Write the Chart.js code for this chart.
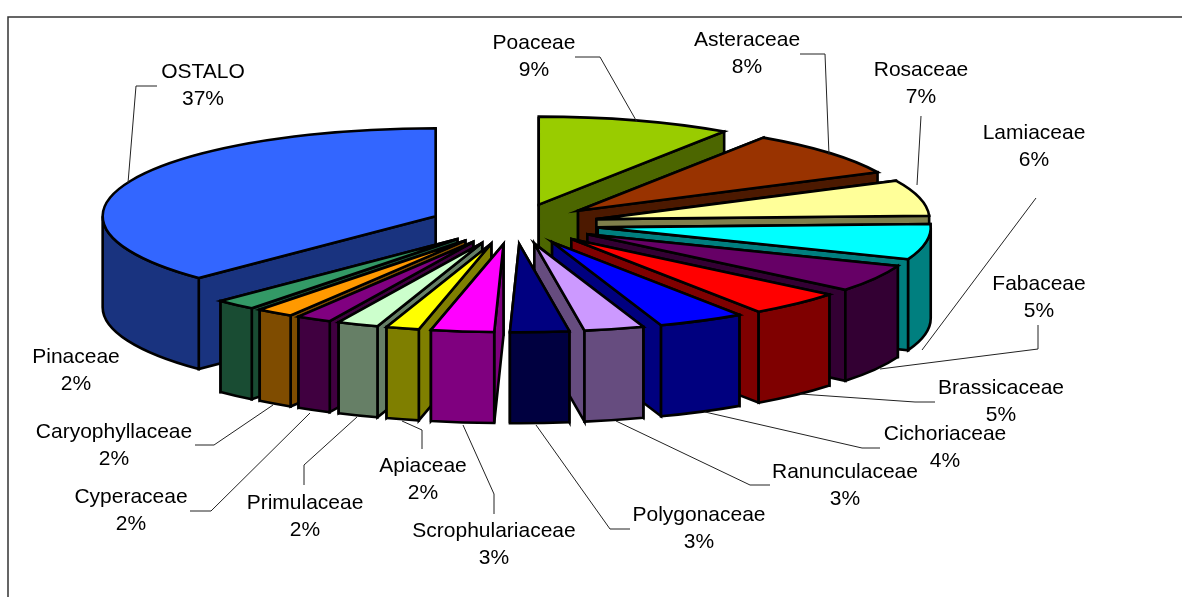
<!DOCTYPE html>
<html>
<head>
<meta charset="utf-8">
<style>
  html, body { margin: 0; padding: 0; background: #fff; }
  #wrap { width: 1182px; height: 597px; }
</style>
<script src="https://cdn.jsdelivr.net/npm/chart.js@4"></script>
</head>
<body>
<div id="wrap"><canvas id="chart" width="1182" height="597"></canvas></div>
<script>
const families = ["Poaceae", "Asteraceae", "Rosaceae", "Lamiaceae", "Fabaceae", "Brassicaceae", "Cichoriaceae", "Ranunculaceae",
    "Polygonaceae", "Scrophulariaceae", "Apiaceae", "Primulaceae", "Cyperaceae", "Caryophyllaceae", "Pinaceae", "OSTALO"];
// the printed percentages are these rounded
const shares = [9.4, 8.4, 6.6, 6.49, 5.0, 4.6, 4.2, 2.9, 2.85, 3.05, 1.6, 2.0, 1.7, 1.8, 2.0, 37.4];
const topColors = ["#99CC00", "#993300", "#FFFF99", "#00FFFF", "#660066", "#FF0000", "#0000FF", "#CC99FF",
    "#000080", "#FF00FF", "#FFFF00", "#CCFFCC", "#800080", "#FF9900", "#339966", "#3366FF"];

// where the captions sit: centre x, centre y of first line
const labelPos = [[534, 43], [747, 40], [921, 70], [1034, 133], [1039, 284], [1001, 388], [945, 434], [845, 472],
    [699, 515], [494, 531], [423, 466], [305, 503], [131, 497], [114, 432], [76, 357], [203, 72]];
const leaders = [
    [[575, 57], [600, 57], [637, 122]],
    [[800, 54], [825, 54], [829, 155]],
    [[921, 116], [917, 185]],
    [[1036, 198], [922, 350]],
    [[1038, 325], [1038, 349], [880, 369]],
    [[935, 402], [915, 402], [800, 394]],
    [[880, 448], [862, 448], [705, 412]],
    [[770, 485], [750, 485], [616, 421]],
    [[630, 529], [610, 529], [536, 425]],
    [[494, 514], [494, 494], [463, 425]],
    [[422, 449], [422, 430], [402, 421]],
    [[304, 485], [304, 465], [357, 417]],
    [[190, 511], [211, 511], [310, 413]],
    [[195, 445], [214, 445], [273, 405]],
    [],
    [[157, 86], [136, 86], [128, 183]]
];

const radiusX = 333, radiusY = 88, explodeX = 0.255, explodeY = 0.23, depth = 91;

function darker(hex) {
    let n = parseInt(hex.slice(1), 16);
    let r = (n >> 16) >> 1, g = ((n >> 8) & 255) >> 1, b = (n & 255) >> 1;
    return "rgb(" + r + "," + g + "," + b + ")";
}

function face(ctx, fill, pathFn) {
    ctx.beginPath();
    pathFn();
    ctx.closePath();
    ctx.fillStyle = fill;
    ctx.fill();
    ctx.stroke();
}

function drawSlice(ctx, arc, color) {
    let a0 = arc.startAngle, a1 = arc.endAngle, mid = (a0 + a1) / 2;
    let ax = arc.x + Math.cos(mid) * radiusX * explodeX;
    let ay = arc.y + Math.sin(mid) * radiusY * explodeY;
    let pt = (a) => [ax + Math.cos(a) * radiusX, ay + Math.sin(a) * radiusY];
    let wall = darker(color);

    let radial = (a) => face(ctx, wall, () => {
        let p = pt(a);
        ctx.moveTo(ax, ay);
        ctx.lineTo(p[0], p[1]);
        ctx.lineTo(p[0], p[1] + depth);
        ctx.lineTo(ax, ay + depth);
    });
    // hidden wall goes first so the facing one covers it
    if (Math.cos(mid) >= 0) {
        radial(a0);
        radial(a1);
    } else {
        radial(a1);
        radial(a0);
    }

    let from = Math.max(a0, 0), to = Math.min(a1, Math.PI);
    if (to > from) {
        face(ctx, wall, () => {
            ctx.ellipse(ax, ay, radiusX, radiusY, 0, from, to);
            ctx.ellipse(ax, ay + depth, radiusX, radiusY, 0, to, from, true);
        });
    }

    face(ctx, color, () => {
        ctx.moveTo(ax, ay);
        ctx.ellipse(ax, ay, radiusX, radiusY, 0, a0, a1);
    });
}

const pie3d = {
    id: "pie3d",
    beforeDatasetDraw(chart, args) {
        let ctx = chart.ctx;
        let arcs = args.meta.data.map((arc, i) => ({arc: arc, i: i}));
        arcs.sort((p, q) => Math.sin((p.arc.startAngle + p.arc.endAngle) / 2) - Math.sin((q.arc.startAngle + q.arc.endAngle) / 2));
        ctx.save();
        ctx.strokeStyle = "#000";
        ctx.lineWidth = 2.6;
        ctx.lineJoin = "miter";
        arcs.forEach((p) => drawSlice(ctx, p.arc, topColors[p.i]));
        ctx.restore();
        return false;
    },
    afterDraw(chart) {
        let ctx = chart.ctx;
        ctx.save();
        ctx.strokeStyle = "#333";
        ctx.lineWidth = 1.5;
        ctx.beginPath();
        ctx.moveTo(8, 597);
        ctx.lineTo(8, 17);
        ctx.lineTo(1182, 17);
        ctx.stroke();

        ctx.strokeStyle = "#222";
        ctx.lineWidth = 1;
        leaders.forEach((line) => {
            if (!line.length) return;
            ctx.beginPath();
            line.forEach((p, i) => i ? ctx.lineTo(p[0], p[1]) : ctx.moveTo(p[0], p[1]));
            ctx.stroke();
        });

        ctx.fillStyle = "#000";
        ctx.font = "21px 'Liberation Sans', Arial, sans-serif";
        ctx.textAlign = "center";
        ctx.textBaseline = "middle";
        families.forEach((name, i) => {
            ctx.fillText(name, labelPos[i][0], labelPos[i][1]);
            ctx.fillText(Math.round(shares[i]) + "%", labelPos[i][0], labelPos[i][1] + 27);
        });
        ctx.restore();
    }
};

new Chart(document.getElementById("chart"), {
    type: "pie",
    data: {
        labels: families,
        datasets: [{data: shares, backgroundColor: topColors, borderWidth: 0}]
    },
    options: {
        responsive: false,
        animation: false,
        rotation: 0,
        layout: {padding: {left: 0, top: 0, right: 154, bottom: 149}},
        plugins: {legend: {display: false}, tooltip: {enabled: false}, title: {display: false}}
    },
    plugins: [pie3d]
});
</script>
</body>
</html>
